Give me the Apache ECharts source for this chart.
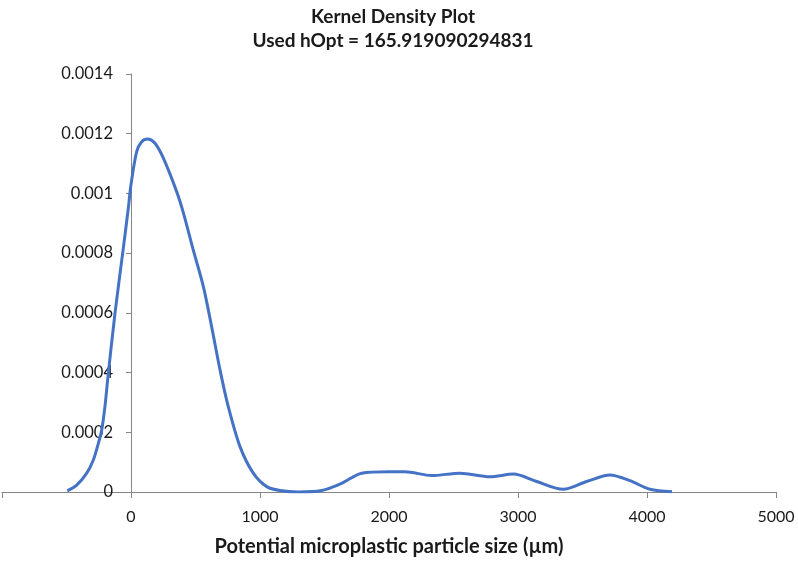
<!DOCTYPE html>
<html>
<head>
<meta charset="utf-8">
<script src="https://cdn.jsdelivr.net/npm/echarts@6/dist/echarts.min.js"></script>
<style>
  html, body { margin: 0; padding: 0; background: #fff; }
  #app { width: 798px; height: 561px; }
</style>
</head>
<body>
<div id="app"></div>
<script>
// particle size (µm)
const sizes = [-494, -421, -343, -292, -253, -227, -202, -180, -124, -60, -21, 0, 44, 83, 129, 186, 251, 354, 406, 483,
  561, 625, 690, 754, 845, 948, 1052, 1155, 1297, 1478, 1633, 1788, 1995, 2124, 2331, 2550, 2783, 2964, 3145, 3351,
  3532, 3713, 3868, 4023, 4194];
// kernel density estimate
const density = [0.000004, 0.000023, 0.000063, 0.000107, 0.000163, 0.000208, 0.000286, 0.000380, 0.000599, 0.000815,
  0.00095, 0.00103, 0.00114, 0.001173, 0.001182, 0.001168, 0.001118, 0.001006, 0.000935, 0.000810,
  0.000688, 0.000554, 0.000409, 0.000286, 0.000152, 0.000063, 0.000018, 0.000005, 0.0, 0.000005,
  0.000029, 0.000063, 0.000068, 0.000068, 0.000055, 0.000063, 0.000051, 0.000060, 0.000035, 0.000009,
  0.000035, 0.000057, 0.000038, 0.000009, 0.000001];
const xTicks = [-1000, 0, 1000, 2000, 3000, 4000, 5000];
const yTicks = [0, 0.0002, 0.0004, 0.0006, 0.0008, 0.001, 0.0012, 0.0014];

const font = 'Lato, "Open Sans", sans-serif';
const axisGrey = '#868686';
const W = 798, gridLeft = 2, gridRight = 22;

const xMin = xTicks[0], xMax = xTicks[xTicks.length - 1];
// y axis sits where x = 0
const yOffset = -(0 - xMin) / (xMax - xMin) * (W - gridLeft - gridRight);

const points = sizes.map((s, i) => [s, density[i]]);

const option = {
  animation: false,
  title: {
    text: 'Kernel Density Plot\nUsed hOpt = 165.919090294831',
    left: 388,
    textAlign: 'center',
    top: 0,
    textStyle: { fontFamily: font, fontSize: 19, fontWeight: 'bold', color: '#1a1a1a', lineHeight: 24 }
  },
  grid: { left: gridLeft, right: gridRight, top: 74, bottom: 69, containLabel: false, outerBoundsMode: 'none' },
  xAxis: {
    type: 'value',
    min: xMin,
    max: xMax,
    interval: 1000,
    name: 'Potential microplastic particle size (µm)',
    nameLocation: 'middle',
    nameGap: 45,
    nameTextStyle: { fontFamily: font, fontSize: 20, fontWeight: 'bold', color: '#1a1a1a' },
    splitLine: { show: false },
    axisLine: { onZero: true, lineStyle: { color: axisGrey, width: 1 } },
    axisTick: { show: true, length: 6, lineStyle: { color: axisGrey } },
    axisLabel: {
      margin: 17,
      fontFamily: font, fontSize: 16, color: '#1a1a1a',
      formatter: v => (v < 0 ? '' : String(v))
    }
  },
  yAxis: {
    type: 'value',
    position: 'left',
    offset: yOffset,
    min: yTicks[0],
    max: yTicks[yTicks.length - 1],
    interval: 0.0002,
    splitLine: { show: false },
    axisLine: { show: true, onZero: false, lineStyle: { color: axisGrey, width: 1 } },
    axisTick: { show: true, length: 5, lineStyle: { color: axisGrey } },
    axisLabel: {
      margin: 18,
      fontFamily: font, fontSize: 16.5, color: '#1a1a1a',
      formatter: v => (Number(v) === 0 ? '0' : String(+Number(v).toFixed(4)))
    }
  },
  series: [{
    type: 'line',
    data: points,
    smooth: 0.3,
    showSymbol: false,
    lineStyle: { color: '#4472C4', width: 3 }
  }]
};

echarts.init(document.getElementById('app')).setOption(option);
</script>
</body>
</html>
